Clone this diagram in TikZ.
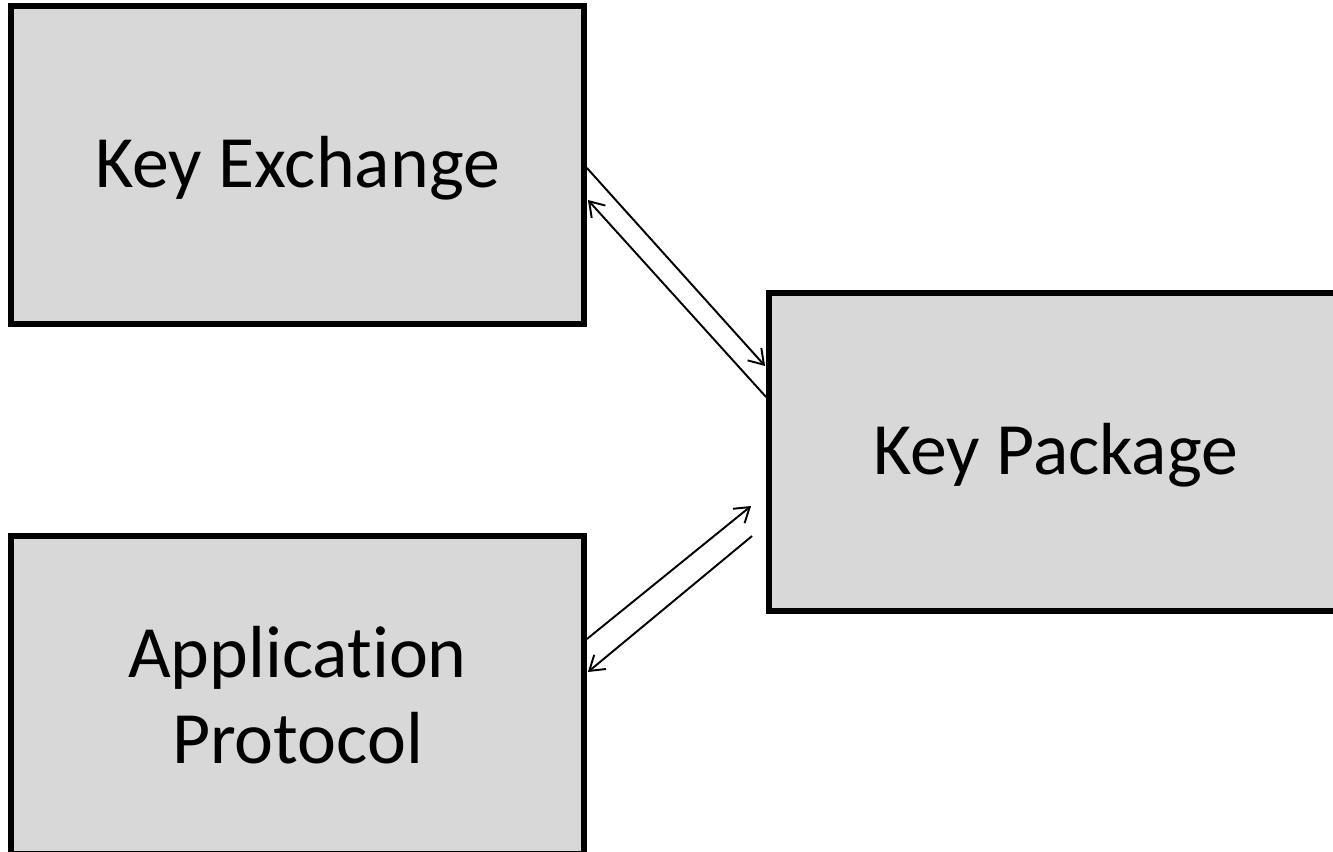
\documentclass[tikz,border=0pt]{standalone}
\usepackage{fontspec}
\setmainfont{Carlito}[Ligatures=NoCommon]
\usetikzlibrary{arrows.meta,calc}
\definecolor{boxfill}{HTML}{D8D8D8}
\begin{document}
\begin{tikzpicture}[x=0.02cm,y=-0.02cm,
  box/.style={draw=black,fill=boxfill,line width=3.4pt,rectangle,
    minimum width=11.46cm,minimum height=6.36cm,align=center,
    font=\fontsize{42}{49}\selectfont,inner sep=0pt},
  oneline/.style={text depth=4pt},
  link/.style={line width=1.1pt,-{Straight Barb[length=8pt,width=10.5pt,line width=1.1pt]}}]
\useasboundingbox (0,0) rectangle (1333,852);
\clip (0,0) rectangle (1333,852);
\node[box,oneline] (ke) at (297.5,165) {Key Exchange};
\node[box,oneline] (kp) at (1055.5,452) {Key Package};
\node[box] (ap) at (297.5,695) {Application\\Protocol};
\draw[link] ($(ke.east)+(0,3)$) -- ($(kp.west)+(-1,-86)$);
\draw[link] ($(kp.west)+(0,-55)$) -- ($(ke.east)+(1,35)$);
\draw[link] ($(ap.east)+(0,-56)$) -- ($(kp.west)+(-15,54)$);
\draw[link] ($(kp.west)+(-14,84)$) -- ($(ap.east)+(1,-23)$);
\end{tikzpicture}
\end{document}
